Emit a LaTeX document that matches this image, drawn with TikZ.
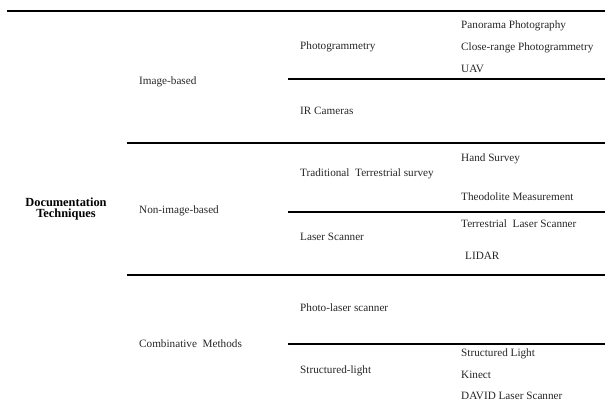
\documentclass[tikz,border=0pt]{standalone}
\usepackage{fontspec}
\setmainfont{Liberation Serif}
\tikzset{rule/.style={line width=1.8pt,black}}
\tikzset{lbl/.style={anchor=west,inner sep=0pt,font=\fontsize{11.2}{12}\selectfont,text=black!85}}
\tikzset{head/.style={align=center,inner sep=0pt,font=\fontsize{12.4}{11.5}\selectfont\bfseries}}

\begin{document}
\begin{tikzpicture}[x=1pt,y=-1pt]
      \pgfmathsetmacro{\colA}{139}
      \pgfmathsetmacro{\colB}{300}
      \pgfmathsetmacro{\colC}{461}
      \useasboundingbox (0,0) rectangle (605,405);
      \draw[rule] (7,11) -- (605,11);
      \draw[rule] (127,143) -- (605,143);
      \draw[rule] (127,275) -- (605,275);
      \draw[rule] (288,79) -- (605,79);
      \draw[rule] (288,212) -- (605,212);
      \draw[rule] (288,344) -- (605,344);
      \node[head] at (66,209) (doc) {Documentation\\Techniques};
      \node[lbl] at (\colA,82) (img) {Image-based};
      \node[lbl] at (\colA,211) (nonimg) {Non-image-based};
      \node[lbl] at (\colA,344) (comb) {Combinative\ \ Methods};
      \node[lbl] at (\colB,47) (photo) {Photogrammetry};
      \node[lbl] at (\colB,111) (ir) {IR Cameras};
      \node[lbl] at (\colB,174) (trad) {Traditional\ \ Terrestrial survey};
      \node[lbl] at (\colB,237) (laser) {Laser Scanner};
      \node[lbl] at (\colB,308) (plaser) {Photo-laser scanner};
      \node[lbl] at (\colB,371) (slight) {Structured-light};
      \node[lbl] at (\colC,26) (pano) {Panorama Photography};
      \node[lbl] at (\colC,48) (close) {Close-range Photogrammetry};
      \node[lbl] at (\colC,69) (uav) {UAV};
      \node[lbl] at (\colC,159) (hand) {Hand Survey};
      \node[lbl] at (\colC,197) (theo) {Theodolite Measurement};
      \node[lbl] at (\colC,224) (tls) {Terrestrial\ \ Laser Scanner};
      \node[lbl] at (\colC+4,256) (lidar) {LIDAR};
      \node[lbl] at (\colC,354) (sl) {Structured Light};
      \node[lbl] at (\colC,375) (kinect) {Kinect};
      \node[lbl] at (\colC,396) (david) {DAVID Laser Scanner};
    \end{tikzpicture}
\end{document}
